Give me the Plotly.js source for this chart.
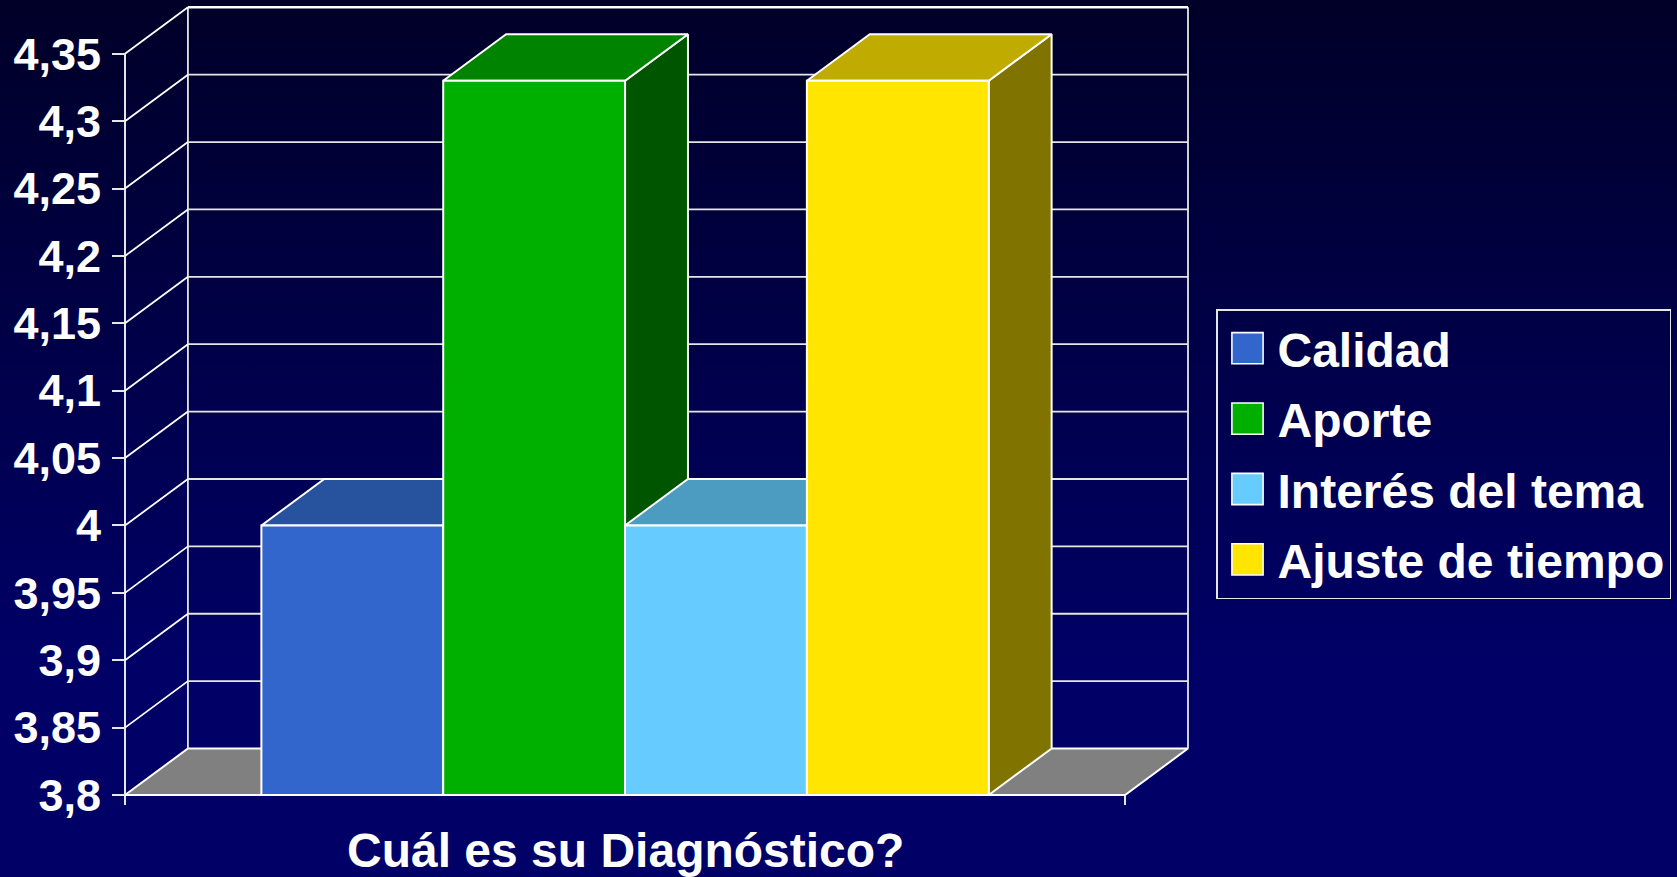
<!DOCTYPE html>
<html>
<head>
<meta charset="utf-8">
<script src="https://cdn.plot.ly/plotly-3.0.1.min.js"></script>
<style>
  html, body { margin: 0; padding: 0; width: 1677px; height: 877px; overflow: hidden;
    background: linear-gradient(to bottom, #000028 0%, #000066 75%, #000066 100%); }
  #chart { width: 1677px; height: 877px; }
</style>
</head>
<body>
<div id="chart"></div>
<script>
// ---- data ----
const category = 'Cuál es su Diagnóstico?';
const seriesNames = ['Calidad', 'Aporte', 'Interés del tema', 'Ajuste de tiempo'];
const seriesValues = [4.0, 4.33, 4.0, 4.33];
const frontColors = ['#3366CC', '#00B000', '#66CCFF', '#FFE500'];
const topColors = ['#27529E', '#008400', '#4C9BC0', '#C0AC00'];
const sideColors = ['#1E3F7A', '#005500', '#3A7A99', '#807300'];
const yTickVals = [3.8, 3.85, 3.9, 3.95, 4.0, 4.05, 4.1, 4.15, 4.2, 4.25, 4.3, 4.35];
const yTickText = ['3,8', '3,85', '3,9', '3,95', '4', '4,05', '4,1', '4,15', '4,2', '4,25', '4,3', '4,35'];

// ---- 3D geometry (in axis units) ----
const BASE = yTickVals[0];
const TOP = yTickVals[yTickVals.length - 1];
const MARGIN = 0.75;              // half of 150% gap
const L = -MARGIN, R = seriesValues.length + MARGIN;
const DX = 0.346, DY = 0.0345;    // depth offset
const PXX = 181.8, PXY = 1347.6;  // px per unit
const PAD = 4;                    // px padding so edge lines are not clipped
const xRange = [L - PAD / PXX, R + DX + PAD / PXX];
const yRange = [BASE - PAD / PXY, TOP + DY + 4.3 / PXY];

const WHITE = '#FFFFFF';
const GRID = '#E6E6E6';
const traces = [];

function poly(xs, ys, fill, lw) {
  return {type: 'scatter', mode: 'lines', x: xs.concat([xs[0]]), y: ys.concat([ys[0]]),
    fill: 'toself', fillcolor: fill, line: {color: WHITE, width: lw || 2},
    hoverinfo: 'skip', showlegend: false};
}

// floor
traces.push(poly([L, R, R + DX, L + DX], [BASE, BASE, BASE + DY, BASE + DY], '#808080', 2));

// back wall grid
(function () {
  const xs = [], ys = [];
  yTickVals.slice(1, -1).forEach(v => { xs.push(L + DX, R + DX, null); ys.push(v + DY, v + DY, null); });
  xs.push(L + DX, L + DX, null, R + DX, R + DX);
  ys.push(BASE + DY, TOP + DY, null, BASE + DY, TOP + DY);
  traces.push({type: 'scatter', mode: 'lines', x: xs, y: ys, line: {color: GRID, width: 1.8},
    hoverinfo: 'skip', showlegend: false});
  traces.push({type: 'scatter', mode: 'lines', x: [L + DX, R + DX], y: [TOP + DY, TOP + DY],
    line: {color: WHITE, width: 2.5}, hoverinfo: 'skip', showlegend: false});
})();

// left wall diagonals + front axis line
(function () {
  const xs = [], ys = [];
  yTickVals.slice(1).forEach(v => { xs.push(L, L + DX, null); ys.push(v, v + DY, null); });
  xs.push(L, L); ys.push(BASE, TOP);
  traces.push({type: 'scatter', mode: 'lines', x: xs, y: ys, line: {color: WHITE, width: 1.8},
    hoverinfo: 'skip', showlegend: false});
})();

// bars
seriesValues.forEach((v, i) => {
  const x0 = i, x1 = i + 1;
  traces.push(poly([x1, x1, x1 + DX, x1 + DX], [BASE, v, v + DY, BASE + DY], sideColors[i]));
  traces.push(poly([x0, x1, x1 + DX, x0 + DX], [v, v, v + DY, v + DY], topColors[i]));
  traces.push(poly([x0, x1, x1, x0], [BASE, BASE, v, v], frontColors[i]));
});

// legend entries
seriesNames.forEach((n, i) => {
  traces.push({type: 'bar', name: n, x: [null], y: [null], legendgroup: 'g' + i,
    marker: {color: frontColors[i], line: {color: WHITE, width: 0.6}}, hoverinfo: 'skip'});
});

const W = 1677, H = 877;
const ml = 121, mr = 485, mt = 3, mb = 78;
const plotW = W - ml - mr, plotH = H - mt - mb;

const layout = {
  width: W, height: H,
  margin: {l: ml, r: mr, t: mt, b: mb, pad: 0},
  paper_bgcolor: 'rgba(0,0,0,0)', plot_bgcolor: 'rgba(0,0,0,0)',
  font: {family: 'Liberation Sans, Arial, sans-serif', color: WHITE},
  showlegend: true,
  xaxis: {range: xRange, showgrid: false, zeroline: false, showline: false,
    tickvals: [L, R], ticks: 'outside', ticklen: 9, tickwidth: 2, tickcolor: GRID,
    showticklabels: false, anchor: 'free', position: PAD / plotH, fixedrange: true},
  yaxis: {range: yRange, showgrid: false, zeroline: false, showline: false,
    tickvals: yTickVals, ticktext: yTickText, ticks: 'outside', ticklen: 13, tickwidth: 2,
    tickcolor: GRID, anchor: 'free', position: PAD / plotW, ticklabelstandoff: 2,
    tickfont: {family: 'Liberation Sans, Arial, sans-serif', size: 45, weight: 'bold', color: WHITE},
    fixedrange: true},
  legend: {x: (1216 - ml) / plotW, y: (H - mb - 309) / plotH, xanchor: 'left', yanchor: 'top',
    bgcolor: 'rgba(0,0,0,0)', bordercolor: GRID, borderwidth: 1.5, traceorder: 'grouped',
    tracegroupgap: 5, itemwidth: 50,
    font: {family: 'Liberation Sans, Arial, sans-serif', size: 48, weight: 'bold', color: WHITE}},
  annotations: [{text: category, xref: 'x', x: (L + R) / 2, yref: 'paper', y: 0,
    yanchor: 'middle', xanchor: 'center', yshift: -51, showarrow: false,
    font: {family: 'Liberation Sans, Arial, sans-serif', size: 48, weight: 'bold', color: WHITE}}]
};

Plotly.newPlot('chart', traces, layout, {staticPlot: true, displayModeBar: false}).then(gd => {
  gd.querySelectorAll('.legend .legendpoints path').forEach(p => {
    const t = p.getAttribute('transform') || '';
    p.setAttribute('transform', t + ' scale(2.6)');
  });
});
</script>
</body>
</html>
